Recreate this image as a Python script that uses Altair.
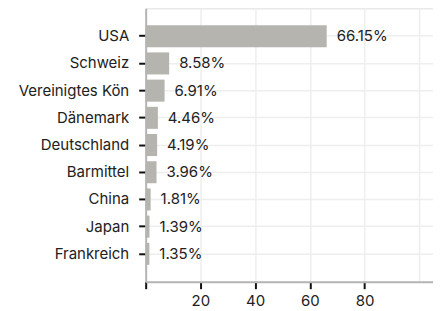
import altair as alt
import pandas as pd

countries = ["USA", "Schweiz", "Vereinigtes Kön", "Dänemark", "Deutschland",
             "Barmittel", "China", "Japan", "Frankreich"]
values = [66.15, 8.58, 6.91, 4.46, 4.19, 3.96, 1.81, 1.39, 1.35]
labels = ["66.15%", "8.58%", "6.91%", "4.46%", "4.19%", "3.96%", "1.81%", "1.39%", "1.35%"]
x_ticks = [0, 20, 40, 60, 80, 100]

df = pd.DataFrame({"country": countries, "value": values, "label": labels})

FONT = "Inter"
FS = 15

y_enc = alt.Y("country:N", sort=countries, title=None,
              scale=alt.Scale(paddingInner=0.19, paddingOuter=0.62),
              axis=alt.Axis(labelFont=FONT, labelFontSize=FS, labelColor="#222222",
                            labelPadding=10, tickSize=7, tickWidth=2, tickColor="#111111",
                            domainColor="#b5b5b5", domainWidth=2,
                            grid=True, gridColor="#eeeeee", gridWidth=1.5,
                            bandPosition=0.5))
x_enc = alt.X("value:Q", title=None,
              scale=alt.Scale(domain=[0, 105], nice=False),
              axis=alt.Axis(values=x_ticks, labelFont=FONT, labelFontSize=FS,
                            labelColor="#222222",
                            labelExpr="datum.value == 0 || datum.value == 100 ? '' : datum.label",
                            tickSize=7, tickWidth=2, tickColor="#111111",
                            tickOpacity={"condition": {"test": "datum.value == 100", "value": 0}, "value": 1},
                            domainColor="#b5b5b5", domainWidth=2, labelPadding=5,
                            grid=True, gridColor="#eeeeee", gridWidth=1.5))

bars = alt.Chart(df).mark_bar(color="#b5b4af").encode(x=x_enc, y=y_enc)
text = alt.Chart(df).mark_text(align="left", baseline="middle", dx=10,
                               font=FONT, fontSize=FS, color="#222222").encode(
    x="value:Q", y=alt.Y("country:N", sort=countries), text="label:N")

chart = (bars + text).properties(
    width=288, height=274,
    autosize=alt.AutoSizeParams(type="none"),
    padding={"left": 138, "top": 0, "right": 0, "bottom": 29},
).configure_view(stroke=None).configure(background="white")

chart.save("out.html", embed_options={"renderer": "svg", "actions": False})
